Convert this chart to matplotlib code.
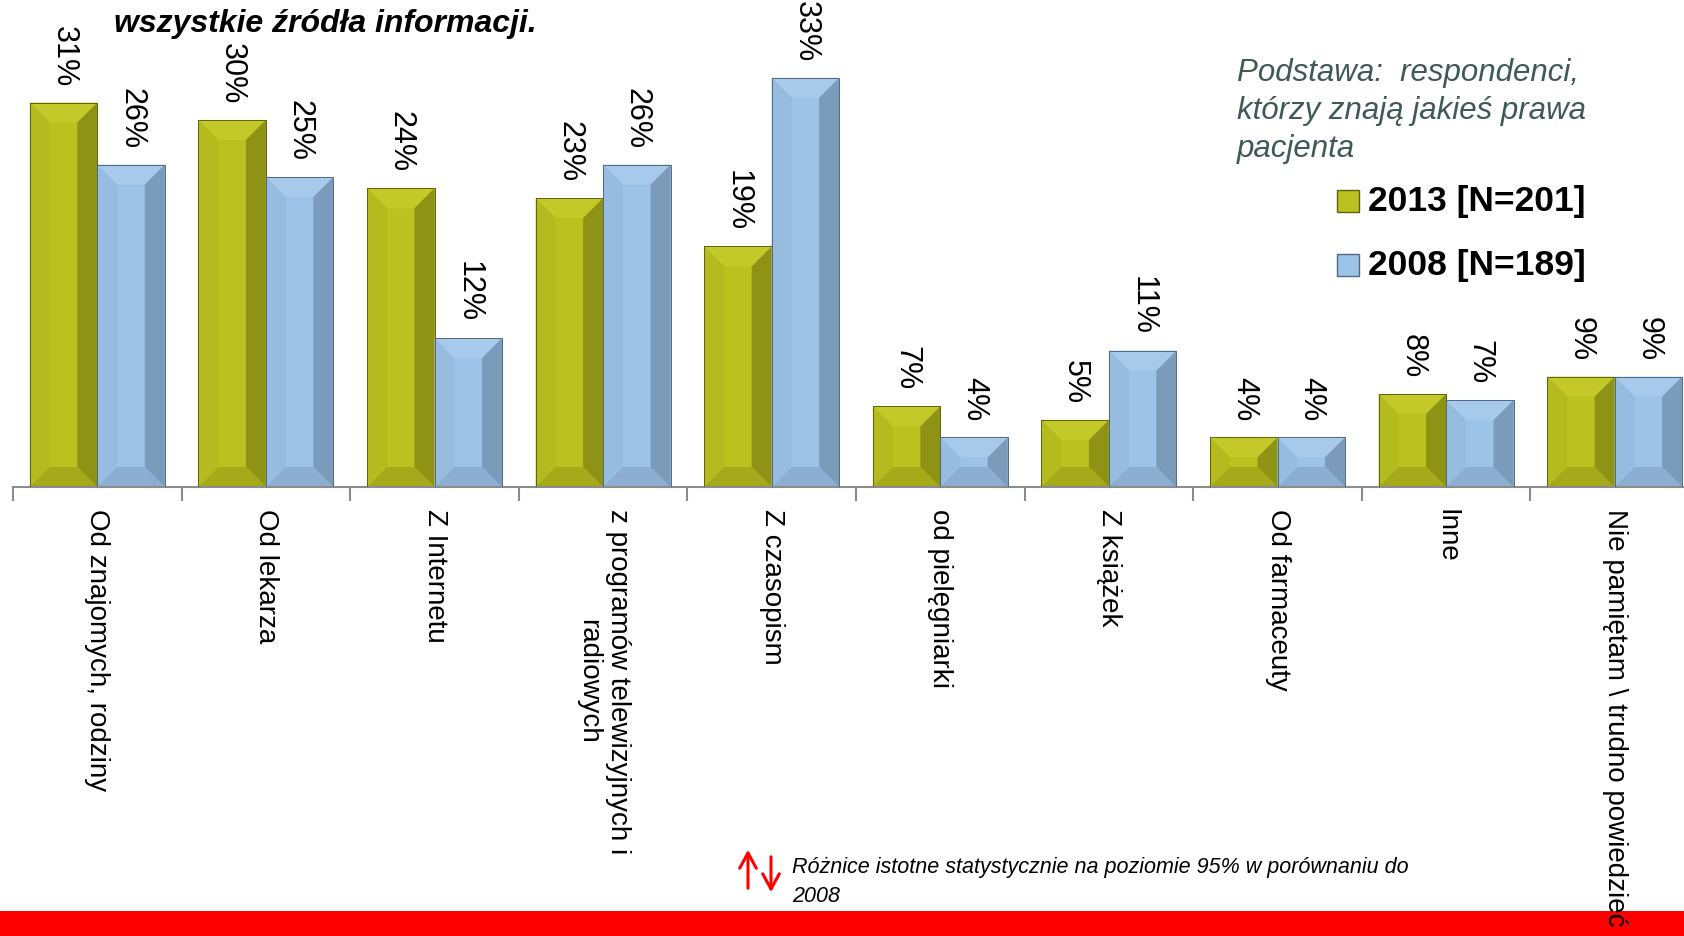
import matplotlib
matplotlib.use("Agg")
import matplotlib.pyplot as plt
from matplotlib.patches import Polygon, Rectangle, FancyArrowPatch

# data (bar heights estimated, labels as printed)
categories = [
    "Od znajomych, rodziny", "Od lekarza", "Z Internetu",
    "z programów telewizyjnych i\nradiowych", "Z czasopism",
    "od pielęgniarki", "Z książek", "Od farmaceuty", "Inne",
    "Nie pamiętam \\ trudno powiedzieć",
]
values_2013 = [31, 29.6, 24.1, 23.3, 19.4, 6.5, 5.4, 4.0, 7.5, 8.9]
values_2008 = [26, 25.0, 12.0, 26.0, 33, 4.0, 11.0, 4.0, 7.0, 8.9]
labels_2013 = ["31%", "30%", "24%", "23%", "19%", "7%", "5%", "4%", "8%", "9%"]
labels_2008 = ["26%", "25%", "12%", "26%", "33%", "4%", "11%", "4%", "7%", "9%"]
series_names = ["2013 [N=201]", "2008 [N=189]"]

W, H = 1684, 937
PX_PER_PCT = 12.4
CAT_PX = 168.6
plt.rcParams['font.family'] = ['Liberation Sans', 'DejaVu Sans']

fig = plt.figure(figsize=(W / 100, H / 100), dpi=100)

def fx(px):
    return px / W

def fy(py):
    return 1 - py / H

# axes: baseline at y=488 px, categories 168.6 px wide
ax = fig.add_axes([fx(13), fy(488), fx(10 * CAT_PX), 488 / H])
ax.set_xlim(-0.5, 9.5)
ax.set_ylim(0, 488 / PX_PER_PCT)
ax.set_zorder(1)
ax.patch.set_alpha(0)

green = dict(face="#bbc220", top="#c3c928", left="#b4bb1e", right="#8f9315", bottom="#a4aa1a", edge="#5f620b")
blue = dict(face="#9dc3e6", top="#a8caea", left="#96bce0", right="#7b9bbb", bottom="#8cafd1", edge="#506a84")


def bevel_bar(x0, w, h, c):
    x1 = x0 + w
    b_px = min(20, h * PX_PER_PCT / 2, w * CAT_PX / 2)
    bx = b_px / CAT_PX
    by = b_px / PX_PER_PCT
    polys = [
        ([(x0, 0), (x1, 0), (x1, h), (x0, h)], c["face"]),
        ([(x0, h), (x1, h), (x1 - bx, h - by), (x0 + bx, h - by)], c["top"]),
        ([(x0, 0), (x0, h), (x0 + bx, h - by), (x0 + bx, by)], c["left"]),
        ([(x1, 0), (x1, h), (x1 - bx, h - by), (x1 - bx, by)], c["right"]),
        ([(x0, 0), (x1, 0), (x1 - bx, by), (x0 + bx, by)], c["bottom"]),
    ]
    for pts, col in polys:
        ax.add_patch(Polygon(pts, closed=True, facecolor=col, edgecolor="none", zorder=2))
    ax.add_patch(Rectangle((x0, 0), w, h, facecolor="none", edgecolor=c["edge"], lw=0.7, zorder=3))


bw = 0.4
for i in range(len(categories)):
    pairs = [(i - bw / 2, values_2013[i], labels_2013[i], green),
             (i + bw / 2, values_2008[i], labels_2008[i], blue)]
    for xc, v, lab, c in pairs:
        bevel_bar(xc - bw / 2, bw, v, c)
        ax.annotate(lab, (xc, v), xytext=(0, 12), textcoords="offset points",
                    rotation=-90, ha="center", va="bottom", fontsize=22, color="black")

# axis styling
for s in ["top", "right", "left"]:
    ax.spines[s].set_visible(False)
ax.spines["bottom"].set_color("#8c8c8c")
ax.spines["bottom"].set_linewidth(1.5)
ax.set_yticks([])
ax.set_xticks(range(len(categories)))
ax.set_xticklabels(categories, rotation=-90, ha="center", va="top", fontsize=20,
                   multialignment="center")
ax.tick_params(axis="x", which="major", length=0, pad=15)
ax.set_xticks([i - 0.5 for i in range(len(categories) + 1)], minor=True)
ax.tick_params(axis="x", which="minor", length=10, width=1.5, color="#8c8c8c")

# title (second line, the first is cut off at the top)
fig.text(fx(114), fy(24), "wszystkie źródła informacji.", fontsize=23, fontweight="bold",
         fontstyle="italic", ha="left", va="center")

# base note
fig.text(fx(1237), fy(111), "Podstawa:  respondenci,\nktórzy znają jakieś prawa\npacjenta",
         fontsize=22.5, fontstyle="italic", color="#3f5858", ha="left", va="center",
         linespacing=1.34)

# legend
for k, (name, c) in enumerate(zip(series_names, [green, blue])):
    cy = 202 + k * 64
    fig.patches.append(Rectangle((fx(1337), fy(cy + 11)), fx(22), 22 / H, transform=fig.transFigure,
                                 facecolor=c["face"], edgecolor=c["edge"], lw=1, zorder=3))
    fig.text(fx(1368), fy(cy), name, fontsize=25.5, fontweight="bold", ha="left", va="center",
             family=["Liberation Sans Narrow", "Liberation Sans"])

# footnote with significance arrows, red band at the bottom
fig.patches.append(Rectangle((0, 0), 1, 25 / H, transform=fig.transFigure,
                             facecolor="#ff0000", edgecolor="none", zorder=-1))
arrow_style = dict(arrowstyle="->,head_length=0.55,head_width=0.3", color="#ff0000", lw=2.2)
fig.add_artist(FancyArrowPatch((fx(748), fy(892)), (fx(748), fy(848)),
                               transform=fig.transFigure, mutation_scale=20, **arrow_style))
fig.add_artist(FancyArrowPatch((fx(771), fy(855)), (fx(771), fy(896)),
                               transform=fig.transFigure, mutation_scale=20, **arrow_style))
fig.text(fx(792), fy(882), "Różnice istotne statystycznie na poziomie 95% w porównaniu do\n2008",
         fontsize=15.5, fontstyle="italic", ha="left", va="center", linespacing=1.55)

fig.savefig("out.png", dpi=100)
